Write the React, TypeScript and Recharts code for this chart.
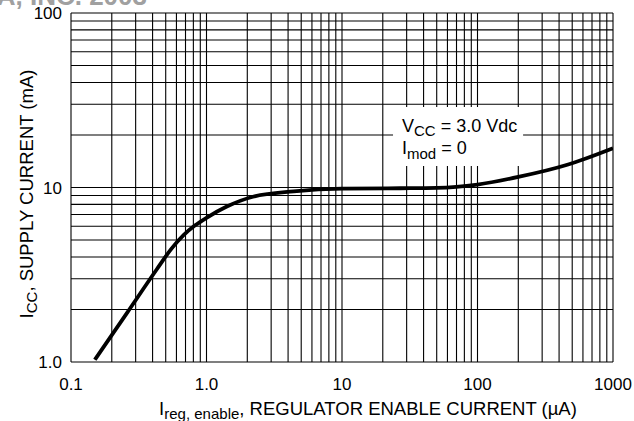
import React from 'react';
import {
  ComposedChart,
  Line,
  XAxis,
  YAxis,
  CartesianGrid,
  ReferenceArea,
  Customized,
} from 'recharts';

// Regulator enable current (uA) and supply current (mA)
const enableCurrentUA = [0.15, 0.26, 0.43, 0.55, 0.68, 0.82, 1.0, 1.4, 2.2, 4.4, 10, 27, 50, 100, 200, 460, 1000];
const supplyCurrentMA = [1.03, 1.92, 3.4, 4.45, 5.35, 6.05, 6.7, 7.75, 8.85, 9.5, 9.85, 9.9, 9.95, 10.4, 11.5, 13.5, 16.8];

// Log grid values (every 1..9 per decade)
const xGridValues = [
  0.1, 0.2, 0.3, 0.4, 0.5, 0.6, 0.7, 0.8, 0.9,
  1, 2, 3, 4, 5, 6, 7, 8, 9,
  10, 20, 30, 40, 50, 60, 70, 80, 90,
  100, 200, 300, 400, 500, 600, 700, 800, 900,
  1000,
];
const yGridValues = [1, 2, 3, 4, 5, 6, 7, 8, 9, 10, 20, 30, 40, 50, 60, 70, 80, 90, 100];

const xTickValues = [0.1, 1, 10, 100, 1000];
const xTickLabels = ['0.1', '1.0', '10', '100', '1000'];
const yTickValues = [1, 10, 100];
const yTickLabels = ['1.0', '10', '100'];

// Annotation box extent (data units)
const noteBoxX = [23.8, 217];
const noteBoxY = [13.3, 28.9];

const data = enableCurrentUA.map((x, i) => ({ x, y: supplyCurrentMA[i] }));

const FONT = '"Liberation Sans", Arial, Helvetica, sans-serif';

const XTick = (props: any) => {
  const { x, y, payload } = props;
  const idx = xTickValues.indexOf(payload.value);
  if (idx < 0) return <g />;
  return (
    <text x={x} y={y} dy={28} textAnchor="middle" fontSize={17} fontFamily={FONT} fill="#000">
      {xTickLabels[idx]}
    </text>
  );
};

const YTick = (props: any) => {
  const { x, y, payload } = props;
  const idx = yTickValues.indexOf(payload.value);
  if (idx < 0) return <g />;
  return (
    <text x={x - 9} y={y} dy={6} textAnchor="end" fontSize={17} fontFamily={FONT} fill="#000">
      {yTickLabels[idx]}
    </text>
  );
};

const NoteLabel = (props: any) => {
  const vb = props.viewBox || {};
  const x0 = (vb.x || 0) + 9;
  const y0 = (vb.y || 0) + 25;
  return (
    <g fontFamily={FONT} fill="#000">
      <text x={x0} y={y0} fontSize={18}>
        V<tspan dy={4} fontSize={15}>CC</tspan>
        <tspan dy={-4}> = 3.0 Vdc</tspan>
      </text>
      <text x={x0} y={y0 + 22} fontSize={18}>
        I<tspan dy={5} fontSize={15}>mod</tspan>
        <tspan dy={-5}> = 0</tspan>
      </text>
    </g>
  );
};

const Extras = () => (
  <g>
    <text x={147} y={5} textAnchor="end" fontSize={26} fontWeight="bold" fontFamily={FONT} fill="#a0a0a0">
      © MOTOROLA, INC. 2003
    </text>
    <text
      x={33}
      y={194}
      transform="rotate(-90, 33, 194)"
      textAnchor="middle"
      fontSize={18.5}
      fontFamily={FONT}
      fill="#000"
    >
      I<tspan dy={4} fontSize={15}>CC</tspan>
      <tspan dy={-4}>, SUPPLY CURRENT (mA)</tspan>
    </text>
    <text x={368} y={415} textAnchor="middle" fontSize={18.5} fontFamily={FONT} fill="#000">
      I<tspan dy={4} fontSize={15}>reg, enable</tspan>
      <tspan dy={-4}>, REGULATOR ENABLE CURRENT (µA)</tspan>
    </text>
  </g>
);

export default function App() {
  return (
    <div style={{ position: 'absolute', left: 0, top: 0, width: 634, height: 421, background: '#fff' }}>
      <ComposedChart
        width={634}
        height={421}
        data={data}
        margin={{ top: 13, right: 21, left: 0, bottom: 0 }}
      >
        <CartesianGrid stroke="#000" strokeWidth={1.1} />
        <XAxis
          dataKey="x"
          type="number"
          scale="log"
          domain={[0.1, 1000]}
          allowDataOverflow
          ticks={xGridValues}
          interval={0}
          tick={<XTick />}
          tickLine={false}
          tickSize={0}
          tickMargin={0}
          axisLine={false}
          height={59}
        />
        <YAxis
          dataKey="y"
          type="number"
          scale="log"
          domain={[1, 100]}
          allowDataOverflow
          ticks={yGridValues}
          interval={0}
          tick={<YTick />}
          tickLine={false}
          tickSize={0}
          tickMargin={0}
          axisLine={false}
          width={71}
        />
        <ReferenceArea
          x1={noteBoxX[0]}
          x2={noteBoxX[1]}
          y1={noteBoxY[0]}
          y2={noteBoxY[1]}
          fill="#fff"
          fillOpacity={1}
          stroke="none"
          label={<NoteLabel />}
        />
        <Line
          type="monotone"
          dataKey="y"
          stroke="#000"
          strokeWidth={3.8}
          dot={false}
          isAnimationActive={false}
        />
        <Customized component={<Extras />} />
      </ComposedChart>
    </div>
  );
}
